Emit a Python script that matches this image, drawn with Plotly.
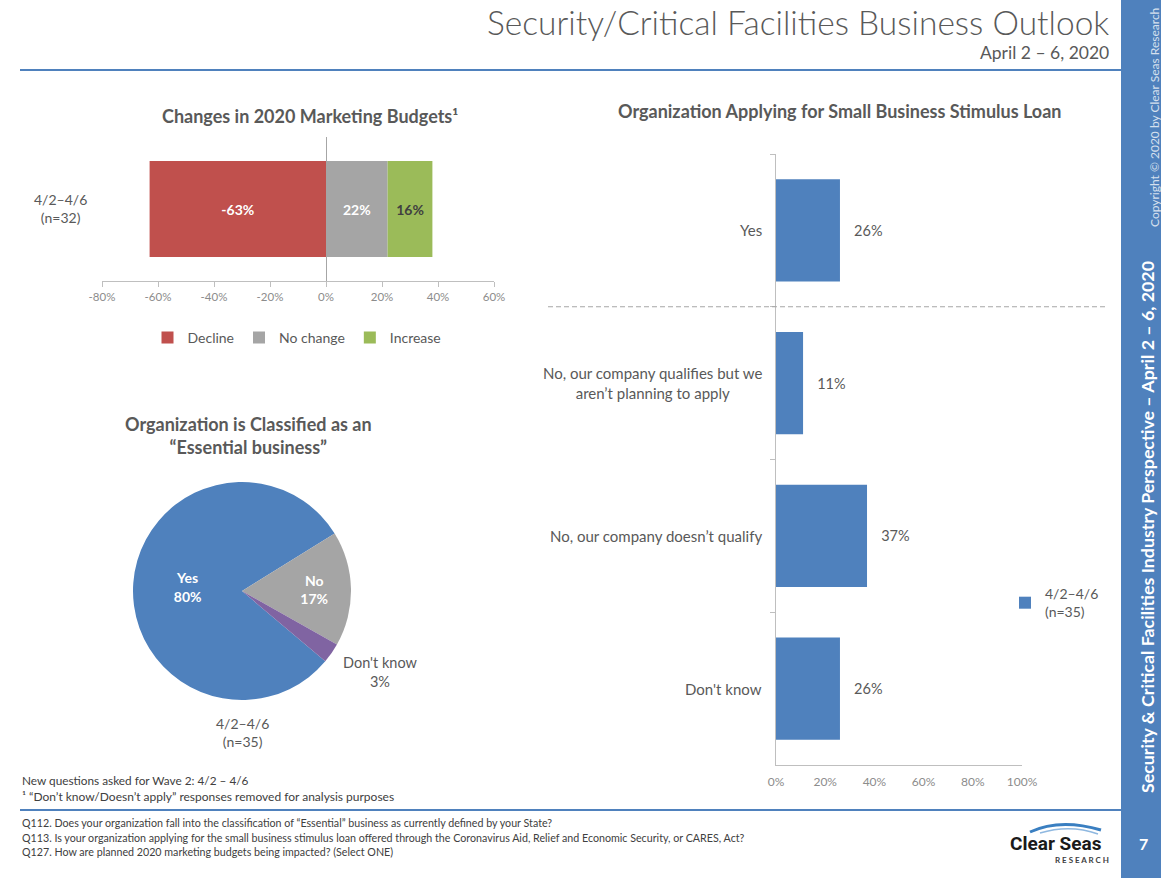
import plotly.graph_objects as go

W, H = 1161, 878
def px(x): return x / W
def py(y): return 1 - y / H

# ---------------- data ----------------
budget_group = ["4/2–4/6 (n=32)"]
budget_cats = ["Decline", "No change", "Increase"]
budget_vals = [-63, 22, 16]
budget_colors = ["#C0504D", "#A5A5A5", "#9BBB59"]
budget_text_colors = ["#FFFFFF", "#FFFFFF", "#404040"]
budget_ticks = [-80, -60, -40, -20, 0, 20, 40, 60]

ess_labels = ["Yes", "No", "Don't know"]
ess_vals = [80, 17, 3]
ess_colors = ["#4F81BD", "#A5A5A5", "#8064A2"]
ess_caption = "4/2–4/6<br>(n=35)"

loan_cats = ["Yes",
             "No, our company qualifies but we<br>aren’t planning to apply",
             "No, our company doesn’t qualify",
             "Don't know"]
loan_vals = [26, 11, 37, 26]
loan_ticks = [0, 20, 40, 60, 80, 100]
loan_series = "4/2–4/6<br>(n=35)"

FONT = "Lato, Open Sans, sans-serif"
GREY_TXT = "#595959"
AXIS = "#BFBFBF"

fig = go.Figure()

# ---- Chart 1: marketing budgets (stacked horizontal bar)
for cat, val, col, tcol in zip(budget_cats, budget_vals, budget_colors, budget_text_colors):
    fig.add_trace(go.Bar(
        y=budget_group, x=[val], name=cat, orientation="h",
        marker=dict(color=col, line=dict(width=0)),
        text=[f"<b>{val}%</b>"], textposition="inside", insidetextanchor="middle",
        textfont=dict(color=tcol, size=14, family=FONT),
        width=0.667, xaxis="x", yaxis="y", legend="legend",
        hoverinfo="skip"))

# ---- Chart 2: essential business pie
fig.add_trace(go.Pie(
    labels=ess_labels, values=ess_vals, sort=False, direction="clockwise",
    rotation=130.2, marker=dict(colors=ess_colors, line=dict(width=0)),
    texttemplate="<b>%{label}<br>%{percent}</b>",
    textposition=["inside", "inside", "none"], insidetextorientation="horizontal",
    textfont=dict(color="white", size=14, family=FONT),
    domain=dict(x=[px(133), px(351)], y=[py(700), py(482)]),
    showlegend=False, hoverinfo="skip"))

# ---- Chart 3: stimulus loan
fig.add_trace(go.Bar(
    y=loan_cats, x=loan_vals, orientation="h", name=loan_series,
    marker=dict(color="#4F81BD", line=dict(width=0)),
    text=[f"\u00a0\u00a0\u00a0{v}%" for v in loan_vals], textposition="outside",
    textfont=dict(color=GREY_TXT, size=14.5, family=FONT), cliponaxis=False,
    width=0.67, xaxis="x2", yaxis="y2", legend="legend2", hoverinfo="skip"))

annotations = []
def ann(x, y, text, size=13, color=GREY_TXT, xanchor="center", yanchor="middle",
        bold=False, align="center", angle=0, family=FONT, **kw):
    if bold:
        text = f"<b>{text}</b>"
    annotations.append(dict(x=px(x), y=py(y), xref="paper", yref="paper", text=text,
                            showarrow=False, xanchor=xanchor, yanchor=yanchor, align=align,
                            textangle=angle, font=dict(size=size, color=color, family=family), **kw))

# header
ann(1111, 22, "Security/Critical Facilities Business Outlook", size=33.5, xanchor="right",
    family="Lato Light, Lato, sans-serif")
ann(1111, 53, "April 2 – 6, 2020", size=17.5, xanchor="right")

# chart titles
ann(310, 116, "Changes in 2020 Marketing Budgets¹", size=18, bold=True)
ann(248, 436, "Organization is Classified as an<br>“Essential business”", size=18, bold=True)
ann(840, 111, "Organization Applying for Small Business Stimulus Loan", size=18, bold=True)

# chart 1 category label
ann(60, 208, budget_group[0].replace(" ", "<br>"), size=14)

# pie captions
ann(380, 672, f"{ess_labels[2]}<br>{ess_vals[2]}%", size=14.5)
ann(242, 732, ess_caption, size=14)

# footnotes
ann(20, 780, "New questions asked for Wave 2: 4/2 – 4/6", size=11.8, xanchor="left", color="#404040")
ann(20, 796, "¹ “Don’t know/Doesn’t apply” responses removed for analysis purposes", size=12,
    xanchor="left", color="#404040")
ann(20, 822, "Q112. Does your organization fall into the classification of “Essential” business as currently defined by your State?",
    size=10.7, xanchor="left", color="#404040")
ann(20, 837, "Q113. Is your organization applying for the small business stimulus loan offered through the Coronavirus Aid, Relief and Economic Security, or CARES, Act?",
    size=10.7, xanchor="left", color="#404040")
ann(20, 851, "Q127. How are planned 2020 marketing budgets being impacted? (Select ONE)",
    size=10.7, xanchor="left", color="#404040")

# sidebar
ann(1147, 527, "Security & Critical Facilities Industry Perspective – April 2 – 6, 2020", size=17.8,
    color="white", bold=True, angle=-90)
ann(1155, 118, "Copyright © 2020 by Clear Seas Research", size=12, color="#D6E0EE", angle=-90)
ann(1143, 843, "7", size=16, color="white", bold=True)

# logo
ann(1056, 843, "Clear Seas", size=19, color="#1A1A1A", bold=True,
    family="Liberation Sans Narrow, Roboto, sans-serif")
ann(1082, 860, "R E S E A R C H", size=8, color="#404040", bold=True)

# chart 3 category labels (through the category axis)
for cat in loan_cats:
    annotations.append(dict(x=0, y=cat, xref="x2", yref="y2", text=cat, showarrow=False,
                            xanchor="right", yanchor="middle", align="center", xshift=-12,
                            font=dict(size=15, color=GREY_TXT, family=FONT)))

def hline(y, x0, x1, color="#4F81BD", width=2, dash="solid"):
    return dict(type="line", xref="paper", yref="paper", x0=px(x0), x1=px(x1), y0=py(y), y1=py(y),
                line=dict(color=color, width=width, dash=dash))

shapes = [
    dict(type="rect", xref="paper", yref="paper", x0=px(1121), x1=1, y0=0, y1=1,
         fillcolor="#4F81BD", line=dict(width=0), layer="below"),
    hline(70, 20, 1121),
    hline(810, 20, 1121),
    # dashed separator between "Yes" and the "No" answers
    dict(type="line", xref="paper", yref="y2", x0=px(548), x1=px(1105), y0=0.5, y1=0.5,
         line=dict(color="#A6A6A6", width=1, dash="5px,3px")),
    # logo wave
    dict(type="path", xref="paper", yref="paper",
         path=f"M {px(1030)},{py(832)} Q {px(1060)},{py(818)} {px(1101)},{py(830)}",
         line=dict(color="#3A7FC1", width=3)),
    dict(type="path", xref="paper", yref="paper",
         path=f"M {px(1040)},{py(833)} Q {px(1070)},{py(824)} {px(1098)},{py(834)}",
         line=dict(color="#8FB8E0", width=1.5)),
]

fig.update_layout(
    width=W, height=H, margin=dict(l=0, r=0, t=0, b=0, autoexpand=False), autosize=False,
    paper_bgcolor="white", plot_bgcolor="white", barmode="relative",
    font=dict(family=FONT, color=GREY_TXT),
    xaxis=dict(domain=[px(102), px(494)], range=[-80, 60], anchor="y",
               tickvals=budget_ticks, ticktext=[f"{t}%" for t in budget_ticks],
               showline=True, linecolor=AXIS, ticks="outside", tickcolor=AXIS, ticklen=5,
               zeroline=True, zerolinecolor="#A6A6A6", zerolinewidth=1, showgrid=False,
               tickfont=dict(size=11.5, color="#8C8C8C"), automargin=False),
    yaxis=dict(domain=[py(281), py(137)], anchor="x", showticklabels=False, showline=False,
               showgrid=False, zeroline=False, ticks="", automargin=False),
    xaxis2=dict(domain=[px(776), px(1022)], range=[0, 100], anchor="y2",
                tickvals=loan_ticks, ticktext=[f"{t}%" for t in loan_ticks],
                showline=True, linecolor=AXIS, ticks="", showgrid=False, zeroline=False,
                tickfont=dict(size=12, color="#8C8C8C"), ticklabelstandoff=6, automargin=False),
    yaxis2=dict(domain=[py(765), py(154)], anchor="x2", type="category",
                categoryorder="array", categoryarray=loan_cats, autorange="reversed",
                showticklabels=False, showline=True, linecolor=AXIS, ticks="outside",
                tickson="boundaries", ticklen=5, tickcolor=AXIS, showgrid=False,
                automargin=False),
    legend=dict(orientation="h", x=px(297), y=py(338), xanchor="center", yanchor="middle",
                font=dict(size=14, color=GREY_TXT), itemwidth=30, bgcolor="rgba(0,0,0,0)",
                traceorder="normal"),
    legend2=dict(x=px(1005), y=py(603), xanchor="left", yanchor="middle",
                 font=dict(size=14, color=GREY_TXT), itemwidth=30, bgcolor="rgba(0,0,0,0)"),
    annotations=annotations, shapes=shapes,
)

post = "document.body.style.margin='0';document.body.style.overflow='hidden';"

fig.write_html("out.html", config={"displayModeBar": False, "responsive": False},
               post_script=post)
